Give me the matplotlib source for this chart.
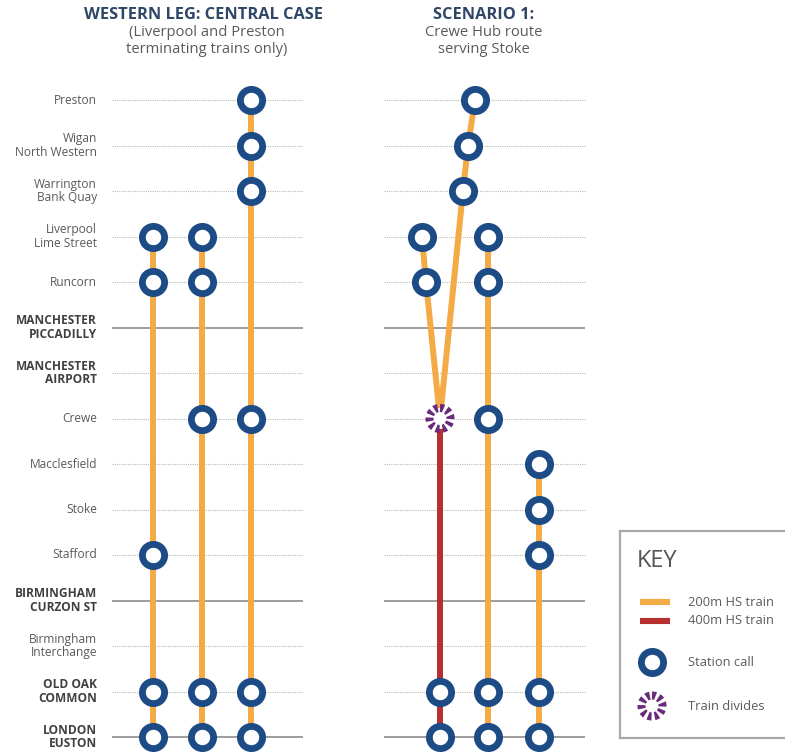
import matplotlib
matplotlib.use("Agg")
import matplotlib.pyplot as plt
from matplotlib.patches import Ellipse

plt.rcParams['font.family'] = ['Open Sans', 'DejaVu Sans']

# ---------------- data ----------------
stations = ["Preston", "Wigan\nNorth Western", "Warrington\nBank Quay",
            "Liverpool\nLime Street", "Runcorn", "MANCHESTER\nPICCADILLY",
            "MANCHESTER\nAIRPORT", "Crewe", "Macclesfield", "Stoke", "Stafford",
            "BIRMINGHAM\nCURZON ST", "Birmingham\nInterchange", "OLD OAK\nCOMMON",
            "LONDON\nEUSTON"]
major = [False, False, False, False, False, True, True, False, False, False,
         False, True, False, True, True]
solid_rule = [False, False, False, False, False, True, False, False, False,
              False, False, True, False, False, True]

# Central case: each train = list of station calls (indices into stations)
central_trains = [
    [3, 4, 10, 13, 14],          # Liverpool via Stafford
    [3, 4, 7, 13, 14],           # Liverpool via Crewe
    [0, 1, 2, 7, 13, 14],        # Preston
]
# Scenario 1
s1_branches = [                  # 200m portions joining at Crewe
    [3, 4, 7],                   # Liverpool portion
    [0, 1, 2, 7],                # Preston portion
]
s1_joined = [7, 13, 14]          # 400m train south of Crewe
s1_trains = [
    [3, 4, 7, 13, 14],           # Liverpool via Crewe
    [8, 9, 10, 13, 14],          # Macclesfield / Stoke / Stafford
]
divide_station = 7

key_items = ["200m HS train", "400m HS train", "Station call", "Train divides"]

# ---------------- style ----------------
ORANGE = "#f4aa45"
RED = "#b5302f"
BLUE = "#1c4b86"
PURPLE = "#6a2b7c"
GREY_TXT = "#5a5a5a"
DARK_TXT = "#404040"
TITLE = "#2f4766"

W, H = 785, 755
fig = plt.figure(figsize=(W / 100, H / 100), dpi=100)
ax = fig.add_axes([0, 0, 1, 1])
Y0, DY = 100.0, 45.5            # pixel y of first station, spacing
ax.set_xlim(0, W)
ax.set_ylim((H - Y0) / DY, -Y0 / DY)
ax.axis("off")

def fy(p):
    return 1 - p / H

# titles
fig.text(203 / W, fy(15), "WESTERN LEG: CENTRAL CASE", ha="center", va="center",
         fontsize=11.8, fontweight="bold", color=TITLE)
fig.text(207 / W, fy(41), "(Liverpool and Preston\nterminating trains only)",
         ha="center", va="center", fontsize=10.6, color=GREY_TXT, linespacing=1.1)
fig.text(484 / W, fy(15), "SCENARIO 1:", ha="center", va="center",
         fontsize=11.8, fontweight="bold", color=TITLE)
fig.text(484 / W, fy(41), "Crewe Hub route\nserving Stoke",
         ha="center", va="center", fontsize=10.6, color=GREY_TXT, linespacing=1.1)

# station rules and labels
panels = [(112, 303), (384, 585)]
for i, (name, bold, solid) in enumerate(zip(stations, major, solid_rule)):
    for x0, x1 in panels:
        if solid:
            ax.plot([x0, x1], [i, i], color="#8c8c8c", lw=1.2, zorder=1,
                    solid_capstyle="butt")
        else:
            ax.plot([x0, x1], [i, i], color="#b9b9b9", lw=0.8,
                    ls=(0, (1, 1)), zorder=1)
    ax.text(97, i, name, ha="right", va="center", multialignment="right",
            fontsize=8.6,
            fontweight="bold" if bold else "normal",
            color=DARK_TXT if bold else GREY_TXT, linespacing=1.05)

RING_MS, RING_MEW = 16.0, 4.9
LW = 4.3

def rings(axis, xs, ys, ms=RING_MS):
    axis.plot(xs, ys, ls="none", marker="o", ms=ms, mew=RING_MEW,
              mec=BLUE, mfc="white", zorder=5)

def divides(x, y, axis, ry_scale):
    e = Ellipse((x, y), 21, 21 * ry_scale, fill=True, fc="white",
                ec=PURPLE, lw=5.8, ls=(0, (0.45, 0.38)), zorder=6)
    axis.add_patch(e)

# central case
central_x = [153, 202, 251]
for x, calls in zip(central_x, central_trains):
    ax.plot([x, x], [calls[0], calls[-1]], color=ORANGE, lw=LW, zorder=2,
            solid_capstyle="butt")
    rings(ax, [x] * len(calls), calls)

# scenario 1
branch_x = [[422, 426, 440], [475, 468, 463, 440]]
for xs, calls in zip(branch_x, s1_branches):
    ax.plot(xs, calls, color=ORANGE, lw=LW, zorder=2, solid_capstyle="butt")
    rings(ax, xs[:-1], calls[:-1])
joined_x = 440
ax.plot([joined_x] * len(s1_joined), s1_joined, color=RED, lw=LW, zorder=2,
        solid_capstyle="butt")
rings(ax, [joined_x] * (len(s1_joined) - 1), s1_joined[1:])
divides(joined_x, divide_station, ax, 1 / DY)

s1_x = [488, 539]
for x, calls in zip(s1_x, s1_trains):
    ax.plot([x, x], [calls[0], calls[-1]], color=ORANGE, lw=LW, zorder=2,
            solid_capstyle="butt")
    rings(ax, [x] * len(calls), calls)

# key
kx0, ky0, kx1, ky1 = 620, 531, 800, 738
kax = fig.add_axes([kx0 / W, 1 - ky1 / H, (kx1 - kx0) / W, (ky1 - ky0) / H])
kax.set_xlim(0, kx1 - kx0)
kax.set_ylim(ky1 - ky0, 0)
kax.set_xticks([])
kax.set_yticks([])
for s in kax.spines.values():
    s.set_color("#a8a8a8")
    s.set_linewidth(1.6)
kax.text(17, 30, "KEY", fontsize=17, color="#555555", va="center", ha="left")
kax.plot([20, 50], [71, 71], color=ORANGE, lw=4.4, solid_capstyle="butt")
kax.plot([20, 50], [90, 90], color=RED, lw=4.4, solid_capstyle="butt")
rings(kax, [32], [131])
divides(32, 175, kax, 1.0)
for yy, t in zip([71, 90, 131, 175], key_items):
    kax.text(68, yy, t, fontsize=9.3, color=GREY_TXT, va="center", ha="left")

fig.savefig("out.png", dpi=100, facecolor="white")
